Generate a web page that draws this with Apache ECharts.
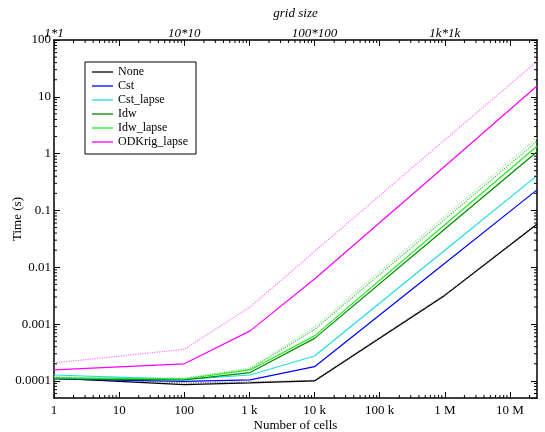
<!DOCTYPE html>
<html lang="en">
<head>
    <meta charset="UTF-8">
    <title>Time vs number of cells</title>
    <script src="https://cdn.jsdelivr.net/npm/echarts@6/dist/echarts.min.js"></script>
    <style>
        html, body { margin: 0; padding: 0; background: #fff; }
        #chart { width: 545px; height: 432px; }
    </style>
</head>
<body>
<div id="chart"></div>
<script type="text/javascript">
    // number of cells for each run
    var cells = [1, 100, 1024, 10000, 1000000, 26000000];

    // timings (s)
    var tNone        = [1.12e-4, 8.6e-5, 9.2e-5, 1.0e-4, 3.2e-3, 0.057];
    var tNoneMax     = [1.16e-4, 9.2e-5, 9.6e-5, 1.02e-4, 3.3e-3, 0.058];
    var tCst         = [1.08e-4, 9.8e-5, 1.04e-4, 1.78e-4, 0.0118, 0.23];
    var tCstLapse    = [1.27e-4, 1.06e-4, 1.27e-4, 2.74e-4, 0.02, 0.41];
    var tIdw         = [1.10e-4, 1.04e-4, 1.40e-4, 5.6e-4, 0.047, 1.08];
    var tIdwMax      = [1.15e-4, 1.10e-4, 1.62e-4, 8.0e-4, 0.07, 1.65];
    var tIdwLapse    = [1.13e-4, 1.08e-4, 1.56e-4, 6.2e-4, 0.056, 1.35];
    var tIdwLapseMax = [1.18e-4, 1.12e-4, 1.70e-4, 8.9e-4, 0.079, 1.9];
    var tKrig        = [1.56e-4, 2.0e-4, 7.6e-4, 6.2e-3, 0.6, 15.5];
    var tKrigMax     = [2.07e-4, 3.6e-4, 2.0e-3, 1.9e-2, 1.75, 42];

    var threshold = 3e-4;

    // top axis labels (grid size) at their cell counts
    var gridSizeLabels = {1: '1*1', 100: '10*10', 10000: '100*100', 1000000: '1k*1k'};
    var xLabels = {1: '1', 10: '10', 100: '100', 1000: '1 k', 10000: '10 k', 100000: '100 k', 1000000: '1 M', 10000000: '10 M'};

    var xMin = 1, xMax = 26000000, yMin = 5e-5, yMax = 100;

    function pairs(ys) {
        var res = [];
        for (var i = 0; i < cells.length; i++) {
            res.push([cells[i], ys[i]]);
        }
        return res;
    }

    // minor tick positions 2..9 in every decade
    function minorTicks(lo, hi) {
        var res = [];
        for (var e = Math.floor(Math.log10(lo)); e <= Math.ceil(Math.log10(hi)); e++) {
            for (var m = 2; m <= 9; m++) {
                var v = m * Math.pow(10, e);
                if (v > lo && v < hi) res.push(v);
            }
        }
        return res;
    }

    var serif = 'Liberation Serif';

    function line(name, data, color, dotted) {
        return {
            name: name,
            type: 'line',
            data: pairs(data),
            symbol: 'none',
            showSymbol: false,
            silent: true,
            lineStyle: {color: color, width: 1.2, type: dotted ? 'dotted' : 'solid'},
            itemStyle: {color: color},
            z: dotted ? 2 : 3
        };
    }

    var chart = echarts.init(document.getElementById('chart'));

    var axisCommon = {
        type: 'log',
        logBase: 10,
        nameMoveOverlap: false,
        axisLine: {onZero: false, lineStyle: {color: '#000', width: 1.5}},
        axisTick: {inside: true, length: 6, lineStyle: {color: '#000', width: 1}},
        splitLine: {show: false}
    };

    var series = [
        line('None', tNone, '#000000', false),
        line('None max', tNoneMax, '#777777', true),
        line('Cst', tCst, '#0000ff', false),
        line('Cst_lapse', tCstLapse, '#22dddd', false),
        line('Idw', tIdw, '#008a00', false),
        line('Idw max', tIdwMax, '#55bb55', true),
        line('Idw_lapse', tIdwLapse, '#22ee22', false),
        line('Idw_lapse max', tIdwLapseMax, '#99ee99', true),
        line('ODKrig_lapse', tKrig, '#ff00ff', false),
        line('ODKrig_lapse max', tKrigMax, '#ff77ff', true),
        {
            name: 'x minor',
            type: 'custom',
            silent: true,
            data: minorTicks(xMin, xMax).map(function (v) { return [v, 1e-3]; }),
            renderItem: function (params, api) {
                var cs = params.coordSys;
                var x = api.coord([api.value(0), 1e-3])[0];
                var st = {stroke: '#000', lineWidth: 1};
                return {
                    type: 'group',
                    children: [
                        {type: 'line', shape: {x1: x, y1: cs.y + cs.height, x2: x, y2: cs.y + cs.height - 3}, style: st},
                        {type: 'line', shape: {x1: x, y1: cs.y, x2: x, y2: cs.y + 3}, style: st}
                    ]
                };
            },
            z: 5
        },
        {
            name: 'y minor',
            type: 'custom',
            silent: true,
            data: minorTicks(yMin, yMax).map(function (v) { return [10, v]; }),
            renderItem: function (params, api) {
                var cs = params.coordSys;
                var y = api.coord([10, api.value(1)])[1];
                var st = {stroke: '#000', lineWidth: 1};
                return {
                    type: 'group',
                    children: [
                        {type: 'line', shape: {x1: cs.x, y1: y, x2: cs.x + 3, y2: y}, style: st},
                        {type: 'line', shape: {x1: cs.x + cs.width, y1: y, x2: cs.x + cs.width - 3, y2: y}, style: st}
                    ]
                };
            },
            z: 5
        }
    ];

    // dash-dot reference level
    series[0].markLine = {
        silent: true,
        symbol: 'none',
        label: {show: false},
        lineStyle: {color: '#aaaaaa', width: 1, type: [6, 2, 1, 2]},
        data: [{yAxis: threshold}]
    };

    var option = {
        animation: false,
        backgroundColor: '#fff',
        textStyle: {fontFamily: serif},
        grid: {left: 54, right: 8, top: 40, bottom: 34, containLabel: false, outerBoundsMode: 'none'},
        legend: {
            orient: 'vertical',
            left: 85,
            top: 62,
            data: ['None', 'Cst', 'Cst_lapse', 'Idw', 'Idw_lapse', 'ODKrig_lapse'],
            icon: 'rect',
            itemWidth: 21,
            itemHeight: 1.3,
            itemGap: 2,
            padding: [4, 8, 6, 7],
            borderColor: '#000',
            borderWidth: 1,
            borderRadius: 0,
            backgroundColor: '#fff',
            textStyle: {fontFamily: serif, fontSize: 12, color: '#000', lineHeight: 12}
        },
        xAxis: [
            Object.assign({}, axisCommon, {
                position: 'bottom',
                min: xMin,
                max: xMax,
                name: 'Number of cells',
                nameLocation: 'middle',
                nameGap: 21,
                nameTextStyle: {fontFamily: serif, fontSize: 13, color: '#000'},
                axisLabel: {
                    color: '#000', fontFamily: serif, fontSize: 13, margin: 6,
                    showMaxLabel: false,
                    formatter: function (v) {
                        var k = Math.round(v);
                        return xLabels[k] !== undefined ? xLabels[k] : '';
                    }
                }
            }),
            Object.assign({}, axisCommon, {
                position: 'top',
                min: xMin,
                max: xMax,
                name: 'grid size',
                nameLocation: 'middle',
                nameGap: 20,
                nameTextStyle: {fontFamily: serif, fontSize: 13, fontStyle: 'italic', color: '#000'},
                axisLabel: {
                    color: '#000', fontFamily: serif, fontSize: 13, fontStyle: 'italic', margin: 0,
                    showMaxLabel: false,
                    formatter: function (v) {
                        var k = Math.round(v);
                        return gridSizeLabels[k] !== undefined ? gridSizeLabels[k] : '';
                    }
                }
            })
        ],
        yAxis: [
            Object.assign({}, axisCommon, {
                position: 'left',
                min: yMin,
                max: yMax,
                name: 'Time (s)',
                nameLocation: 'middle',
                nameGap: 30,
                nameTextStyle: {fontFamily: serif, fontSize: 13, color: '#000'},
                axisLabel: {
                    color: '#000', fontFamily: serif, fontSize: 13, margin: 3,
                    showMinLabel: false,
                    formatter: function (v) {
                        return String(Number(v.toPrecision(1)));
                    }
                }
            }),
            Object.assign({}, axisCommon, {
                position: 'right',
                min: yMin,
                max: yMax,
                axisLabel: {show: false}
            })
        ],
        series: series
    };

    chart.setOption(option);
</script>
</body>
</html>
